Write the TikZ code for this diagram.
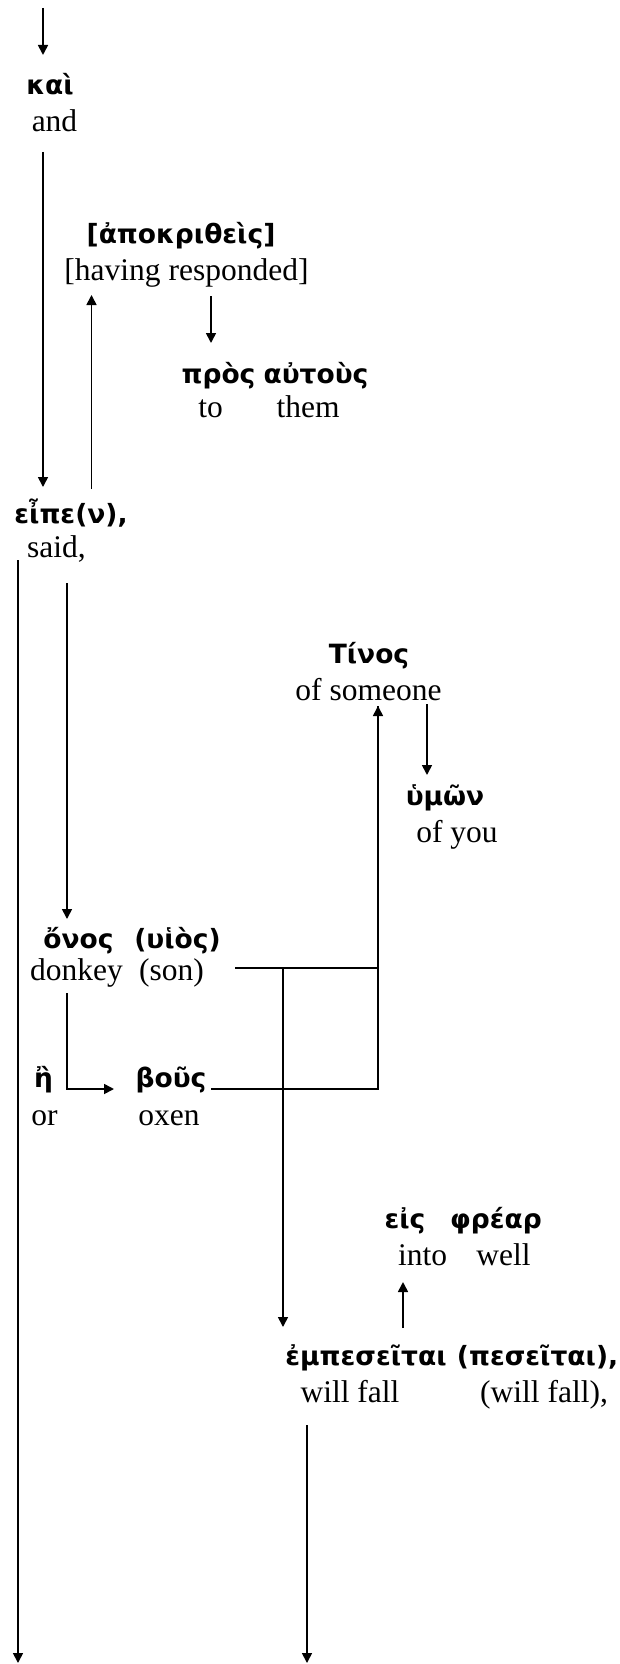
\documentclass[tikz,border=0pt]{standalone}
\usepackage{fontspec}
\setmainfont{Liberation Serif}
\newfontfamily\greekfam{DejaVu Sans}
\usetikzlibrary{arrows.meta}
\newcommand{\grkface}{\greekfam\bfseries\fontsize{26.5}{30}\selectfont}
\newcommand{\engface}{\fontsize{31.5}{36}\selectfont}
\tikzset{
  >={Triangle[width=10pt,length=10pt]},
  grk/.style={font=\grkface, anchor=base, inner sep=0pt},
  eng/.style={font=\engface, anchor=base, inner sep=0pt},
  link/.style={line width=1.7pt}
}

\begin{document}
\begin{tikzpicture}[x=1pt, y=-1pt, link]
    \useasboundingbox (0,0) rectangle (620,1664);

    % greek words
    \node[grk] (kai)      at (50,95)     {καὶ};
    \node[grk] (apok)     at (181,243)   {[ἀποκριθεὶς]};
    \node[grk] (pros)     at (218.5,383) {πρὸς};
    \node[grk] (autous)   at (316,383)   {αὐτοὺς};
    \node[grk] (eipe)     at (71,523)    {εἶπε(ν),};
    \node[grk] (tinos)    at (369,663)   {Τίνος};
    \node[grk] (hymon)    at (445,805)   {ὑμῶν};
    \node[grk] (onos)     at (78.5,948)  {ὄνος};
    \node[grk] (huios)    at (177.5,948) {(υἱὸς)};
    \node[grk] (e)        at (43.5,1087) {ἢ};
    \node[grk] (bous)     at (171,1087)  {βοῦς};
    \node[grk] (eis)      at (405,1228)  {εἰς};
    \node[grk] (frear)    at (496,1228)  {φρέαρ};
    \node[grk] (empes)    at (366,1365)  {ἐμπεσεῖται};
    \node[grk, anchor=base east] (peseitai) at (619,1365) {(πεσεῖται),};

    % english glosses
    \node[eng] (and)       at (54.5,132)  {and};
    \node[eng] (having)    at (186.5,280) {[having responded]};
    \node[eng] (to)        at (210.5,417) {to};
    \node[eng] (them)      at (308,417)   {them};
    \node[eng] (said)      at (56.5,557)  {said,};
    \node[eng] (someone)   at (368.5,700) {of someone};
    \node[eng] (ofyou)     at (457,842)   {of you};
    \node[eng] (donkey)    at (76.5,980)  {donkey};
    \node[eng] (son)       at (171.5,980) {(son)};
    \node[eng] (or)        at (44.5,1125) {or};
    \node[eng] (oxen)      at (169,1125)  {oxen};
    \node[eng] (into)      at (422.5,1265) {into};
    \node[eng] (well)      at (503.5,1265) {well};
    \node[eng] (willfall)  at (350,1402)  {will fall};
    \node[eng] (willfall2) at (544,1402)  {(will fall),};

    \coordinate (top)  at (43,8);
    \coordinate (endL) at (18,1663);
    \coordinate (endR) at (307,1663);

    \draw[->] (top) -- ([shift={(-7,-40)}]kai.base);
    \draw[->] ([shift={(-11.5,20)}]and.base) -- ([shift={(-28,-36)}]eipe.base);
    \draw[->] ([shift={(20.5,-34)}]eipe.base) -- ([shift={(-95,15)}]having.base);
    \draw[->] ([shift={(24.5,16)}]having.base) -- ([shift={(-7.5,-40)}]pros.base);
    \draw[->] ([shift={(-53,37)}]eipe.base) -- (endL);
    \draw[->] ([shift={(10.5,26)}]said.base) -- ([shift={(-11.5,-29)}]onos.base);
    \draw[->] ([shift={(-9.5,13)}]donkey.base) |- ([shift={(-57,2)}]bous.base);
    \draw[->] ([shift={(40,2)}]bous.base) -| ([shift={(9.5,6)}]someone.base);
    \draw ([shift={(63.5,-12)}]son.base) -| ([shift={(9.5,6)}]someone.base);
    \draw[->] ([shift={(111.5,-12)}]son.base) -- ([shift={(-83,-38)}]empes.base);
    \draw[->] ([shift={(58.5,4)}]someone.base) -- ([shift={(-18,-30)}]hymon.base);
    \draw[->] ([shift={(37,-37)}]empes.base) -- ([shift={(-19.5,17)}]into.base);
    \draw[->] ([shift={(-43,23)}]willfall.base) -- (endR);
\end{tikzpicture}
\end{document}
